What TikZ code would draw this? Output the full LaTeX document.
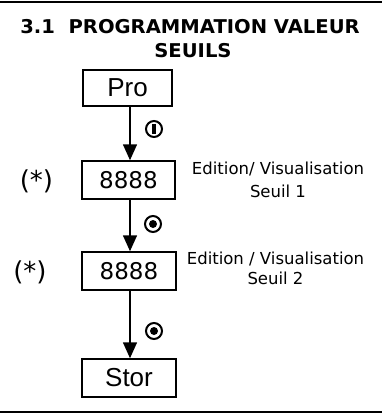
\documentclass[tikz,border=0pt]{standalone}
\usepackage{fontspec}
\setmainfont{DejaVu Sans}
\newfontfamily\arialf{Liberation Sans}
\usetikzlibrary{arrows.meta,calc}
\begin{document}
\begin{tikzpicture}[x=1pt,y=-1pt,
  box/.style={draw,line width=1.5pt,inner sep=0pt,font=\arialf\fontsize{26}{26}\selectfont},
  numbox/.style={box,font=\fontsize{23}{23}\selectfont},
  flow/.style={line width=1.6pt,-{Triangle[width=14pt,length=16pt]}},
  btn/.style={circle,draw,line width=2pt,minimum size=16pt,inner sep=0pt},
  lbl/.style={font=\fontsize{16.5}{23}\selectfont,align=center,inner sep=0pt},
  star/.style={font=\fontsize{26}{26}\selectfont,inner sep=0pt},
  ttl/.style={font=\bfseries\fontsize{19}{19}\selectfont,inner sep=0pt,anchor=base}]
\useasboundingbox (0,0) rectangle (382,416);
\draw[line width=2pt] (0,2) -- (382,2);
\draw[line width=2pt] (0,412) -- (382,412);
% title
\node[ttl] (t1) at (190,33) {\scalebox{1.03}[1]{3.1\ \ PROGRAMMATION VALEUR}};
\node[ttl] (t2) at (193,57) {\scalebox{1.03}[1]{SEUILS}};
% boxes
\node[box,minimum width=89pt,minimum height=36pt] (pro) at (127.5,88) {Pro};
\node[numbox,minimum width=93pt,minimum height=38pt] (b1) at (128.5,180) {8888};
\node[numbox,minimum width=94pt,minimum height=38pt] (b2) at (129,271) {8888};
\node[box,minimum width=94pt,minimum height=38pt] (stor) at (129,378) {Stor};
% arrows
\coordinate (a0) at (130,106);
\coordinate (a1) at (130,199);
\coordinate (a2) at (130,290);
\draw[flow] (a0) -- (a0 |- b1.north);
\draw[flow] (a1) -- (a1 |- b2.north);
\draw[flow] (a2) -- (a2 |- stor.north);
% button symbols
\node[btn] (s1) at (154,129) {};
\fill ($(s1.center)+(-2,-5)$) rectangle ($(s1.center)+(2,5)$);
\node[btn] (s2) at (153,224) {};
\fill (s2.center) circle (4pt);
\node[btn] (s3) at (154,331) {};
\fill (s3.center) circle (4pt);
% side labels
\node[star] (p1) at (36.5,181) {(*)};
\node[star] (p2) at (30,272) {(*)};
\node[lbl,anchor=north] (l1) at (278,162) {Edition/ Visualisation\\Seuil 1};
\node[lbl,anchor=north] (l2) at (275.5,252) {Edition / Visualisation\\[-3pt]Seuil 2};
\end{tikzpicture}
\end{document}
